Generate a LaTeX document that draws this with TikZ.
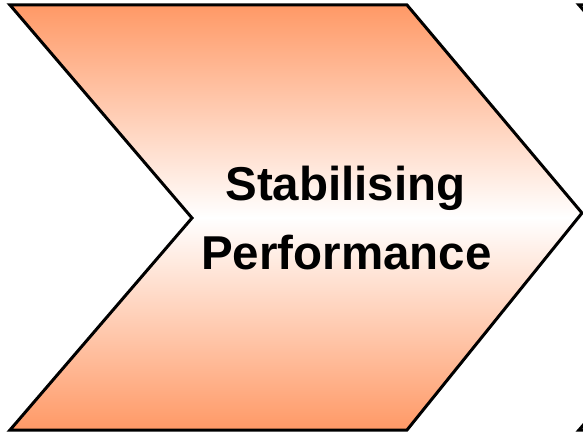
\documentclass[tikz,border=0pt]{standalone}
\usepackage{fontspec}
\setmainfont{Liberation Sans}
\definecolor{salmon}{RGB}{255,153,102}
\begin{document}
\begin{tikzpicture}[x=1pt,y=1pt,
  outline/.style={draw=black, line width=3pt, line join=miter},
  label/.style={anchor=base, inner sep=0pt, font=\bfseries\fontsize{47.5}{57}\selectfont}]
  \useasboundingbox (0,0) rectangle (583,432);
  \begin{scope}
    \clip (0,0) rectangle (583,432);
    % main chevron with orange-white-orange vertical shading
    \path[shade, top color=salmon, bottom color=salmon, middle color=white]
      (10,427) -- (407,427) -- (582,219) -- (407,2) -- (10,2) -- (192,214) -- cycle;
    \draw[outline]
      (10,427) -- (407,427) -- (582,219) -- (407,2) -- (10,2) -- (192,214) -- cycle;
    % left corners of the following chevron
    \draw[outline] (900,427) -- (579,427) -- (762,214) -- (579,2) -- (900,2);
  \end{scope}
  \node[label] (l1) at (345.5,232) {Stabilising};
  \node[label] (l2) at (346.5,163) {Performance};
\end{tikzpicture}
\end{document}
